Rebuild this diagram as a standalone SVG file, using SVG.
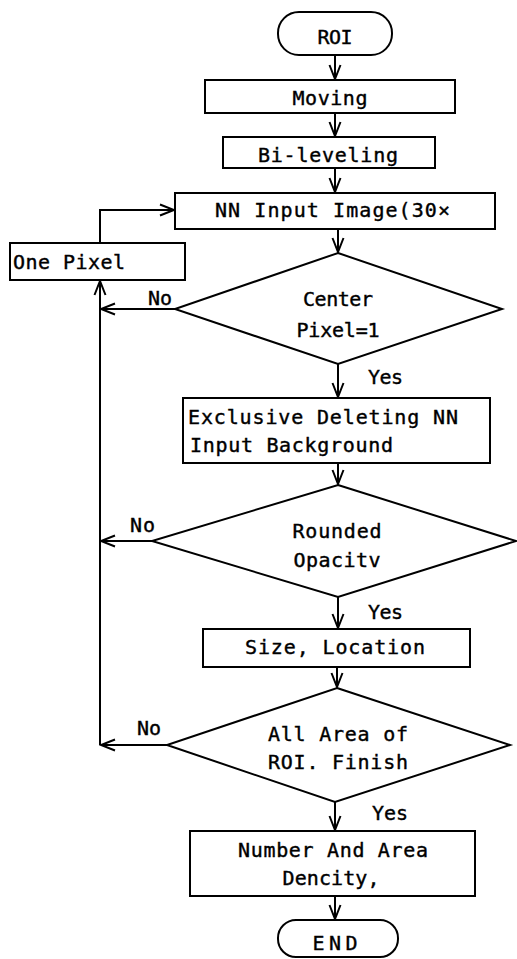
<svg xmlns="http://www.w3.org/2000/svg" width="517" height="959" viewBox="0 0 517 959">
<style>
.s{fill:#fff;stroke:#000;stroke-width:2}
.c{fill:none;stroke:#000;stroke-width:2}
text{font-family:"DejaVu Sans Mono","Liberation Mono",monospace;font-size:20px;fill:#000;stroke:#000;stroke-width:0.4;dominant-baseline:central}
.m{text-anchor:middle}
</style>
<defs>
<marker id="arr" viewBox="-16 -8 18 16" markerWidth="18" markerHeight="16" refX="0" refY="0" orient="auto" markerUnits="userSpaceOnUse">
<path d="M-14,-5.5 L0,0 L-14,5.5" fill="none" stroke="#000" stroke-width="2"/>
</marker>
</defs>
<rect width="517" height="959" fill="#fff"/>
<g id="connectors">
<line class="c" x1="335" y1="55" x2="335" y2="79" marker-end="url(#arr)"/>
<line class="c" x1="335" y1="113" x2="335" y2="136" marker-end="url(#arr)"/>
<line class="c" x1="335" y1="168" x2="335" y2="192" marker-end="url(#arr)"/>
<line class="c" x1="338" y1="229" x2="338" y2="252" marker-end="url(#arr)"/>
<polyline class="c" points="100,243 100,210 174,210" marker-end="url(#arr)"/>
<line class="c" x1="100" y1="745" x2="100" y2="281" marker-end="url(#arr)"/>
<line class="c" x1="175" y1="309" x2="101" y2="309" marker-end="url(#arr)"/>
<line class="c" x1="338" y1="364" x2="338" y2="397" marker-end="url(#arr)"/>
<line class="c" x1="338" y1="463" x2="338" y2="484" marker-end="url(#arr)"/>
<line class="c" x1="152" y1="541" x2="101" y2="541" marker-end="url(#arr)"/>
<line class="c" x1="338" y1="597" x2="338" y2="628" marker-end="url(#arr)"/>
<line class="c" x1="337" y1="667" x2="337" y2="687" marker-end="url(#arr)"/>
<line class="c" x1="167" y1="745" x2="101" y2="745" marker-end="url(#arr)"/>
<line class="c" x1="335" y1="802" x2="335" y2="830" marker-end="url(#arr)"/>
<line class="c" x1="335" y1="896" x2="335" y2="919" marker-end="url(#arr)"/>
<text x="148" y="298" textLength="24">No</text>
<text x="368" y="377" textLength="35">Yes</text>
<text x="130" y="525" textLength="25">No</text>
<text x="368" y="612" textLength="35">Yes</text>
<text x="137" y="728" textLength="24">No</text>
<text x="372" y="813" textLength="36">Yes</text>
</g>
<g id="roi"><rect class="s" x="278" y="12" width="114" height="43" rx="21"/><text class="m" x="335" y="37" textLength="35">ROI</text></g>
<g id="moving"><rect class="s" x="205" y="80" width="250" height="33"/><text class="m" x="330" y="98" textLength="75">Moving</text></g>
<g id="bileveling"><rect class="s" x="223" y="137" width="212" height="31"/><text class="m" x="328" y="155" textLength="140">Bi-leveling</text></g>
<g id="nninput"><rect class="s" x="175" y="193" width="320" height="36"/><text x="215" y="210" textLength="235">NN Input Image(30×</text></g>
<g id="onepixel"><rect class="s" x="10" y="243" width="175" height="37"/><text x="13" y="262" textLength="112">One Pixel</text></g>
<g id="centerpixel"><polygon class="s" points="338,253 502,309 338,364 175,309"/><text class="m" x="338" y="299" textLength="70">Center</text><text class="m" x="338" y="330" textLength="83">Pixel=1</text></g>
<g id="exclusive"><rect class="s" x="183" y="398" width="307" height="65"/><text x="188" y="417" textLength="270">Exclusive Deleting NN</text><text x="190" y="445" textLength="203">Input Background</text></g>
<g id="rounded"><polygon class="s" points="338,485 516,541 338,597 152,541"/><text class="m" x="337" y="531" textLength="89">Rounded</text><text class="m" x="337" y="560" textLength="87">Opacitv</text></g>
<g id="sizelocation"><rect class="s" x="203" y="629" width="267" height="38"/><text class="m" x="335" y="647" textLength="180">Size, Location</text></g>
<g id="allarea"><polygon class="s" points="337,688 510,745 335,802 167,745"/><text class="m" x="338" y="734" textLength="140">All Area of</text><text class="m" x="338" y="762" textLength="140">ROI. Finish</text></g>
<g id="number"><rect class="s" x="190" y="831" width="285" height="65"/><text class="m" x="333" y="850" textLength="190">Number And Area</text><text class="m" x="331" y="878" textLength="97">Dencity,</text></g>
<g id="end"><rect class="s" x="278" y="920" width="120" height="37" rx="18"/><text class="m" x="335" y="943" textLength="45">END</text></g>
</svg>
